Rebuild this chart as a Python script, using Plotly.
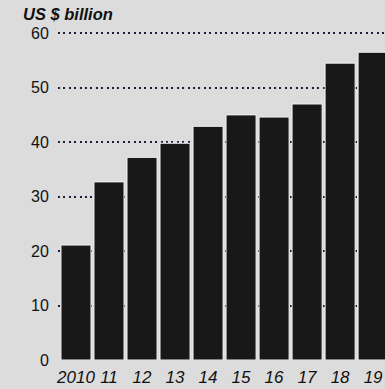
import plotly.graph_objects as go

years = ["2010", "11", "12", "13", "14", "15", "16", "17", "18", "19"]
values = [21.1, 32.7, 37.2, 39.8, 42.9, 45.0, 44.6, 47.0, 54.5, 56.5]
y_ticks = [0, 10, 20, 30, 40, 50, 60]

fig = go.Figure()
fig.add_trace(go.Bar(
    x=years, y=values,
    marker=dict(color="#181818", line=dict(color="#f2f2f2", width=1)),
    hoverinfo="skip",
))

fig.update_layout(
    width=385, height=389,
    margin=dict(l=58, r=0, t=31, b=29),
    paper_bgcolor="#dcdcdc", plot_bgcolor="#dcdcdc",
    bargap=0.09,
    showlegend=False,
    font=dict(family="Liberation Sans, Arial, sans-serif", color="#111111"),
    annotations=[dict(
        text="<b><i>US $ billion</i></b>", xref="paper", yref="paper",
        x=-0.112, y=1.0, xanchor="left", yanchor="bottom", yshift=6,
        showarrow=False, font=dict(size=16.5, color="#111111"),
    )],
)
fig.update_xaxes(
    type="category", range=[-0.545, 9.36],
    showgrid=False, showline=False, zeroline=False,
    ticks="outside", ticklen=2, tickcolor="rgba(0,0,0,0)",
    tickfont=dict(size=17, family="Liberation Sans, Arial, sans-serif"),
    tickprefix="<i>", ticksuffix="</i>",
)
fig.update_yaxes(
    range=[0, 60.4], tickvals=y_ticks,
    showgrid=True, gridcolor="#1c1c3c", gridwidth=2, griddash="2px,3.4px",
    zeroline=False, showline=False,
    ticks="outside", ticklen=5, tickcolor="rgba(0,0,0,0)",
    tickfont=dict(size=16),
)

fig.write_html("out.html")
